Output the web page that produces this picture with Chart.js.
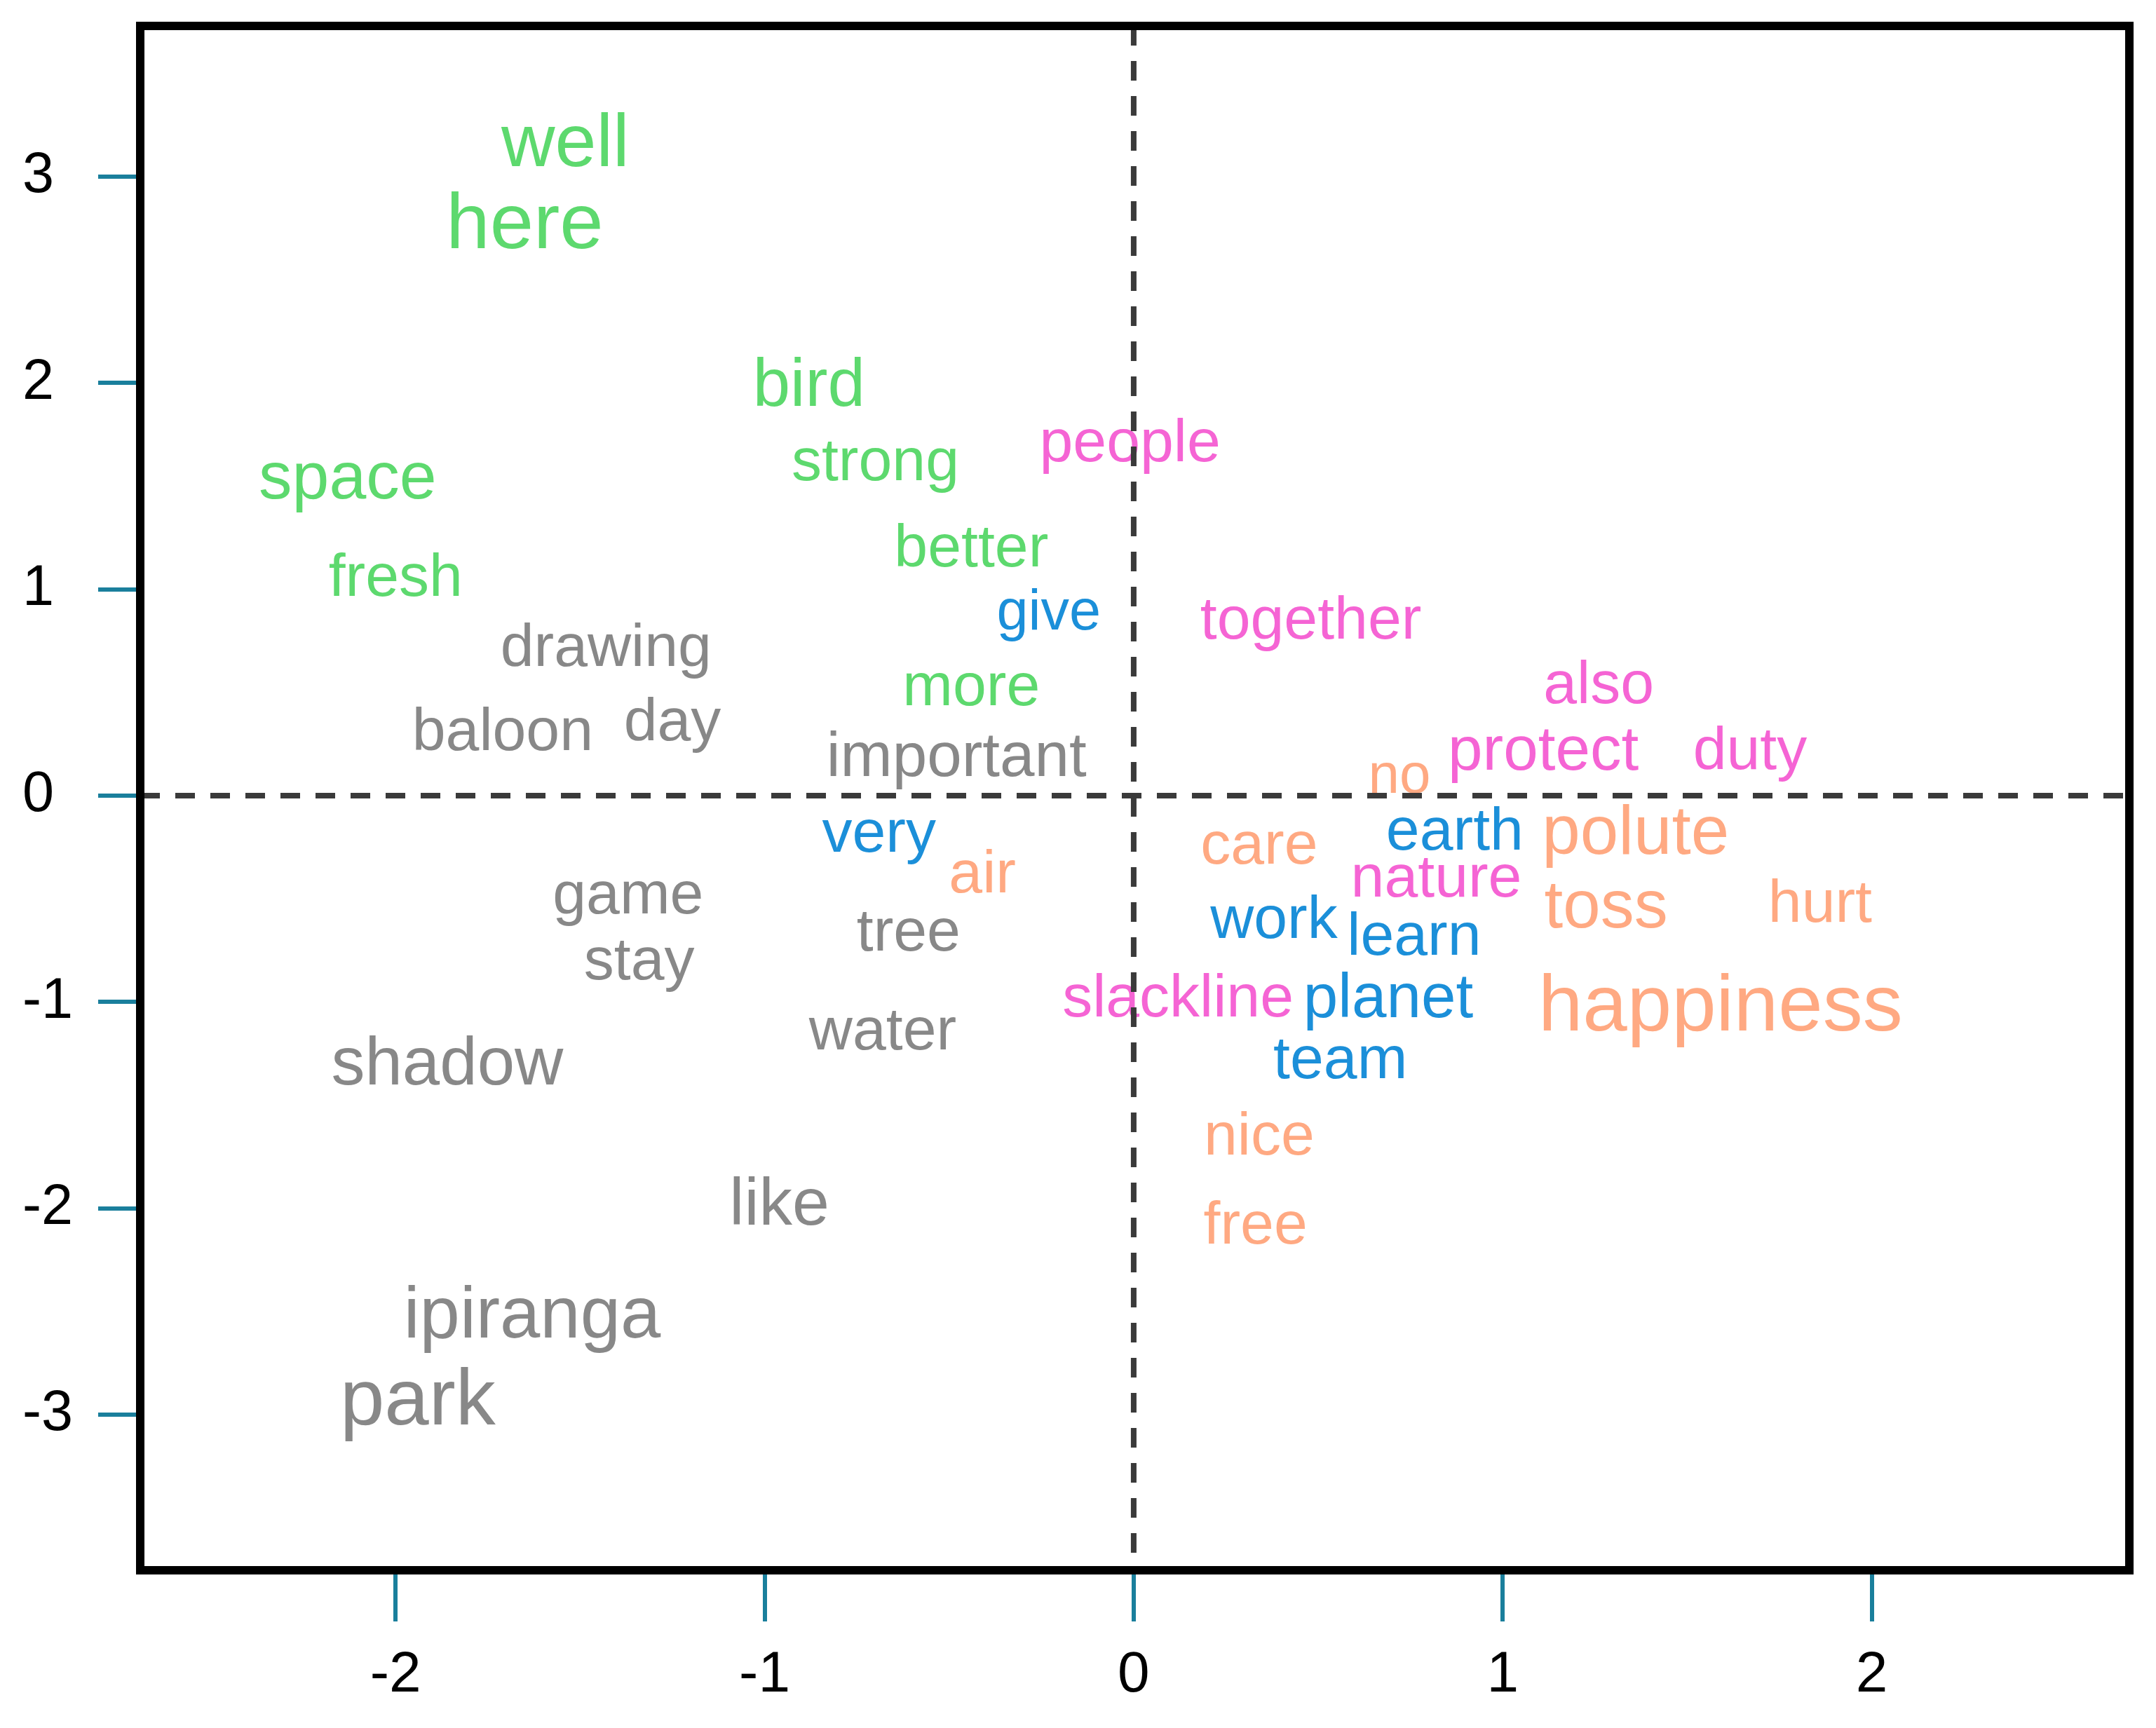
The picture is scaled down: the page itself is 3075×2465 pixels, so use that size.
<!DOCTYPE html>
<html>
<head>
<meta charset="utf-8">
<script src="https://cdn.jsdelivr.net/npm/chart.js@4/dist/chart.umd.min.js"></script>
<style>
  html, body { margin: 0; padding: 0; background: #ffffff; }
  canvas { display: block; }
</style>
</head>
<body>
<canvas id="c" width="3075" height="2465"></canvas>
<script>
// ---------------- DATA ----------------
const words = ["well","here","bird","space","strong","better","fresh","more",
  "give","very","earth","work","learn","planet","team",
  "people","together","also","protect","duty","nature","slackline",
  "no","care","air","polute","toss","hurt","happiness","nice","free",
  "drawing","baloon","day","important","game","stay","tree","water","shadow","like","ipiranga","park"];
const xValues = [-1.54,-1.65,-0.88,-2.13,-0.70,-0.44,-2.00,-0.44,
  -0.23,-0.69,0.87,0.38,0.76,0.69,0.56,
  -0.01,0.48,1.26,1.11,1.67,0.82,0.12,
  0.72,0.34,-0.41,1.36,1.28,1.86,1.59,0.34,0.33,
  -1.43,-1.71,-1.25,-0.48,-1.37,-1.34,-0.61,-0.68,-1.86,-0.96,-1.63,-1.94];
const yValues = [3.15,2.76,1.98,1.53,1.61,1.19,1.05,0.52,
  0.88,-0.19,-0.18,-0.61,-0.69,-0.99,-1.29,
  1.70,0.84,0.53,0.21,0.21,-0.41,-0.99,
  0.09,-0.25,-0.39,-0.19,-0.55,-0.53,-1.03,-1.66,-2.09,
  0.71,0.30,0.35,0.18,-0.49,-0.81,-0.67,-1.15,-1.31,-1.99,-2.53,-2.94];
const groups = ["green","green","green","green","green","green","green","green",
  "blue","blue","blue","blue","blue","blue","blue",
  "pink","pink","pink","pink","pink","pink","pink",
  "orange","orange","orange","orange","orange","orange","orange","orange","orange",
  "gray","gray","gray","gray","gray","gray","gray","gray","gray","gray","gray","gray"];
const groupOrder = ["green","blue","pink","orange","gray"];
const xTickValues = [-2, -1, 0, 1, 2];
const yTickValues = [-3, -2, -1, 0, 1, 2, 3];

// ---------------- STYLE ----------------
const GROUP_COLORS = {
  green: "#5dd96e",
  blue: "#1b8fd9",
  pink: "#f564d4",
  orange: "#ffa982",
  gray: "#888888"
};
const WORD_FONT_DEFAULT = 86;
const WORD_FONT_SIZE = {
  well: 106, here: 112, bird: 96, space: 95, polute: 98, toss: 96,
  happiness: 114, shadow: 96, like: 95, ipiranga: 103, park: 114,
  give: 81, no: 80, protect: 89, planet: 89, important: 89
};
const FONT_FAMILY = "'Liberation Sans', Arial, sans-serif";
const TICK_COLOR = "#1a7f9c";

// ---------------- BUILD DATASETS ----------------
const datasets = groupOrder.map(g => {
  const pts = [];
  words.forEach((w, i) => {
    if (groups[i] === g) pts.push({ x: xValues[i], y: yValues[i], word: w });
  });
  return {
    label: g,
    data: pts,
    pointRadius: 0,
    pointHoverRadius: 0,
    showLine: false
  };
});

const wordLabelsPlugin = {
  id: 'wordLabels',
  afterDatasetsDraw(chart) {
    const ctx = chart.ctx;
    ctx.save();
    ctx.textAlign = 'center';
    ctx.textBaseline = 'middle';
    chart.data.datasets.forEach((ds, di) => {
      const meta = chart.getDatasetMeta(di);
      meta.data.forEach((el, j) => {
        const w = ds.data[j].word;
        const size = WORD_FONT_SIZE[w] || WORD_FONT_DEFAULT;
        ctx.font = size + "px " + FONT_FAMILY;
        ctx.fillStyle = GROUP_COLORS[ds.label];
        ctx.fillText(w, el.x, el.y);
      });
    });
    ctx.restore();
  }
};

const framePlugin = {
  id: 'frame',
  afterDraw(chart) {
    const ctx = chart.ctx;
    const a = chart.chartArea;
    const xs = chart.scales.x, ys = chart.scales.y;
    const x0 = xs.getPixelForValue(0);
    const y0 = ys.getPixelForValue(0);
    ctx.save();
    ctx.strokeStyle = "#3a3a3a";
    ctx.lineWidth = 8;
    ctx.setLineDash([28, 22]);
    ctx.beginPath();
    ctx.moveTo(a.left, y0);
    ctx.lineTo(a.right, y0);
    ctx.stroke();
    ctx.beginPath();
    ctx.moveTo(x0, a.top);
    ctx.lineTo(x0, a.bottom);
    ctx.stroke();
    ctx.setLineDash([]);
    ctx.strokeStyle = "#000000";
    ctx.lineWidth = 12;
    ctx.strokeRect(a.left, a.top, a.right - a.left, a.bottom - a.top);
    ctx.restore();
  }
};

const CHART_LEFT = 200, CHART_TOP = 37, CHART_RIGHT = 3037, CHART_BOTTOM = 2240;
const PAD_LEFT = 32;

new Chart(document.getElementById('c'), {
  type: 'scatter',
  data: { datasets },
  options: {
    responsive: false,
    animation: false,
    events: [],
    layout: {
      padding: { left: PAD_LEFT, top: CHART_TOP, right: 3075 - CHART_RIGHT, bottom: 0 }
    },
    plugins: {
      legend: { display: false },
      tooltip: { enabled: false }
    },
    scales: {
      x: {
        type: 'linear',
        min: -2.692,
        max: 2.698,
        border: { display: false },
        grid: {
          drawOnChartArea: false,
          drawTicks: true,
          tickLength: 73,
          tickWidth: 6,
          lineWidth: 6,
          tickColor: TICK_COLOR,
          color: TICK_COLOR
        },
        ticks: {
          color: "#000000",
          font: { family: FONT_FAMILY, size: 82 },
          padding: 28,
          maxRotation: 0,
          autoSkip: false,
          callback: v => String(v)
        },
        afterBuildTicks: s => { s.ticks = xTickValues.map(v => ({ value: v })); },
        afterFit: s => {
          s.height = 2465 - CHART_BOTTOM;
          s.paddingLeft = 0; s.paddingRight = 0;
        }
      },
      y: {
        type: 'linear',
        min: -3.755,
        max: 3.731,
        border: { display: false },
        grid: {
          drawOnChartArea: false,
          drawTicks: true,
          tickLength: 60,
          tickWidth: 6,
          lineWidth: 6,
          tickColor: TICK_COLOR,
          color: TICK_COLOR
        },
        ticks: {
          color: "#000000",
          font: { family: FONT_FAMILY, size: 81, lineHeight: 0.8 },
          padding: 0,
          crossAlign: 'far',
          autoSkip: false,
          callback: v => String(v)
        },
        afterBuildTicks: s => { s.ticks = yTickValues.map(v => ({ value: v })); },
        afterFit: s => {
          s.width = CHART_LEFT - PAD_LEFT;
          s.paddingTop = 0; s.paddingBottom = 0;
        }
      }
    }
  },
  plugins: [wordLabelsPlugin, framePlugin]
});
</script>
</body>
</html>
